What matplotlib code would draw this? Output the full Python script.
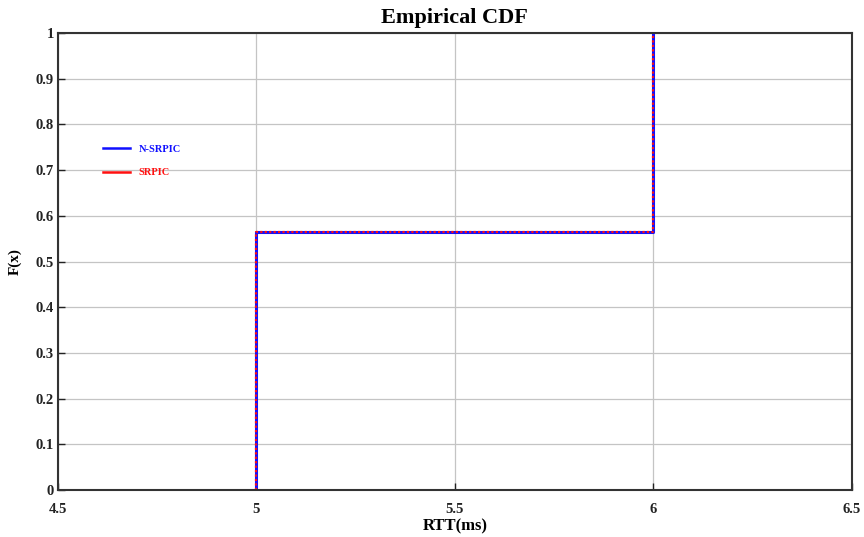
import matplotlib
matplotlib.use("Agg")
import matplotlib.pyplot as plt
from matplotlib.lines import Line2D

# Empirical CDF step data (RTT in ms)
rtt_x = [5.0, 5.0, 6.0, 6.0]
nsrpic_F = [0.0, 0.565, 0.565, 1.0]
srpic_F = [0.0, 0.565, 0.565, 1.0]
series_labels = ["N-SRPIC", "SRPIC"]
xticks = [4.5, 5.0, 5.5, 6.0, 6.5]
xtick_labels = ["4.5", "5", "5.5", "6", "6.5"]
yticks = [0, 0.1, 0.2, 0.3, 0.4, 0.5, 0.6, 0.7, 0.8, 0.9, 1.0]
ytick_labels = ["0", "0.1", "0.2", "0.3", "0.4", "0.5", "0.6", "0.7", "0.8", "0.9", "1"]

plt.rcParams['font.family'] = ['Liberation Serif', 'DejaVu Serif']
plt.rcParams['font.weight'] = 'bold'

fig = plt.figure(figsize=(8.64, 5.37), dpi=100)
ax = fig.add_axes([0.067, 0.0875, 0.919, 0.851])

ax.plot(rtt_x, nsrpic_F, color='#1010ff', lw=2.2, label=series_labels[0])
ax.plot(rtt_x, srpic_F, color='#ff1010', lw=1.6, ls=(0, (1, 1)), label=series_labels[1])

ax.set_xlim(4.5, 6.5)
ax.set_ylim(0, 1)
ax.set_xticks(xticks)
ax.set_xticklabels(xtick_labels, fontsize=10.5, fontweight='bold')
ax.set_yticks(yticks)
ax.set_yticklabels(ytick_labels, fontsize=10.5, fontweight='bold')
ax.tick_params(direction='in', length=5, width=1, colors='#222222')
ax.tick_params(axis='y', pad=3)
ax.tick_params(axis='x', pad=9)
ax.grid(True, color='#c4c4c4', lw=0.9)
ax.set_axisbelow(True)
for s in ax.spines.values():
    s.set_linewidth(1.5)
    s.set_color('#333333')

ax.set_title("Empirical CDF", fontsize=16, fontweight='bold', pad=7)
ax.set_xlabel("RTT(ms)", fontsize=12, fontweight='bold', labelpad=2)
ax.set_ylabel("F(x)", fontsize=11, fontweight='bold', labelpad=10)

h1 = Line2D([], [], color='#1010ff', lw=1.8)
h2 = Line2D([], [], color='#ff1010', lw=1.8)
leg = ax.legend([h1, h2], series_labels, loc='upper left', bbox_to_anchor=(0.045, 0.776),
                frameon=False, fontsize=7.5, handlelength=2.6, handletextpad=0.8,
                labelspacing=1.35)
for t, c in zip(leg.get_texts(), ['#1010ff', '#ff1010']):
    t.set_color(c)
    t.set_fontweight('bold')

fig.savefig("out.png", dpi=100)
